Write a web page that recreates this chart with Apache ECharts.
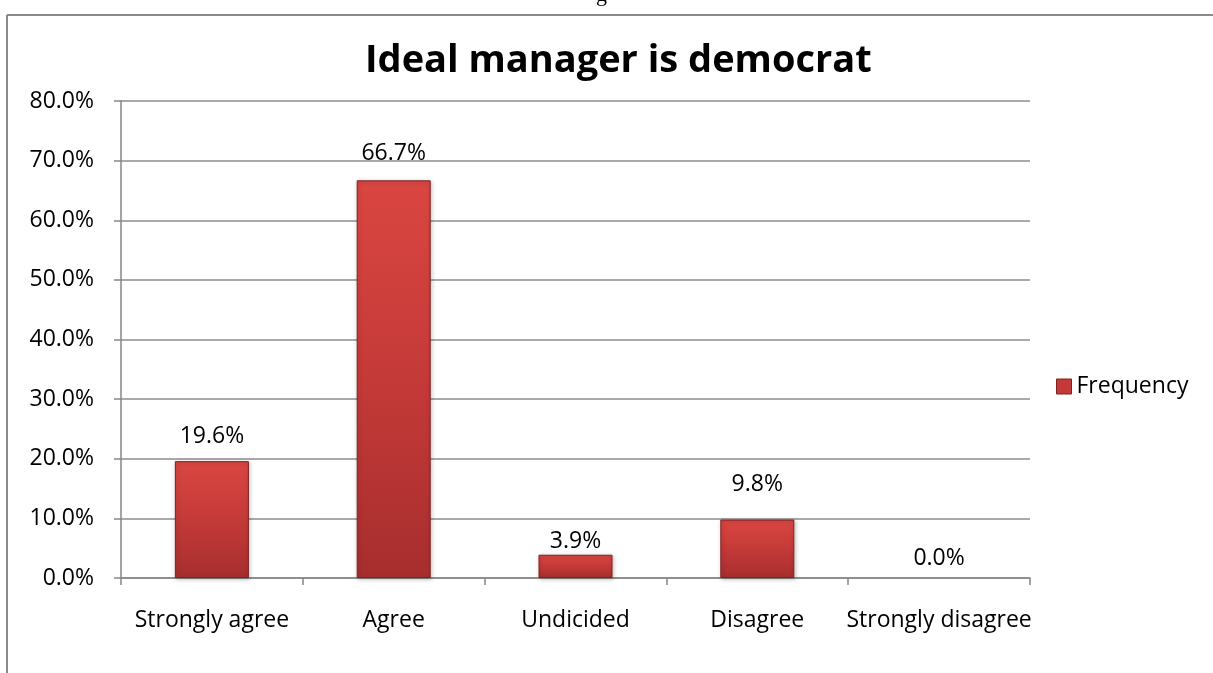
<!DOCTYPE html>
<html>
<head>
<meta charset="utf-8">
<script src="https://cdn.jsdelivr.net/npm/echarts@6/dist/echarts.min.js"></script>
<style>
html,body{margin:0;padding:0;background:#fff;}
#chart{width:1213px;height:673px;}
</style>
</head>
<body>
<div id="chart"></div>
<script>
const categories = ['Strongly agree', 'Agree', 'Undicided', 'Disagree', 'Strongly disagree'];
const frequency = [19.6, 66.7, 3.9, 9.8, 0.0];
const yTicks = [0, 10, 20, 30, 40, 50, 60, 70, 80];
const chartTitle = 'Ideal manager is democrat';
const seriesName = 'Frequency';

const font = '"Open Sans", "Noto Sans", sans-serif';
const chart = echarts.init(document.getElementById('chart'));
const barColor = {
  type: 'linear', x: 0, y: 0, x2: 0, y2: 1,
  colorStops: [
    {offset: 0, color: '#DA4641'},
    {offset: 0.5, color: '#C43A38'},
    {offset: 1, color: '#A72E2E'}
  ]
};
// vertical nudges of the data labels, as placed in the original chart
const labelNudge = [0, -2, 11, -11, 5];
const barData = frequency.map((v, i) => {
  const item = {value: v, label: {offset: [0, labelNudge[i]]}};
  if (v === 0) item.itemStyle = {color: 'rgba(0,0,0,0)', borderColor: 'rgba(0,0,0,0)', borderWidth: 0,
    shadowBlur: 0, shadowOffsetX: 0, shadowOffsetY: 0, shadowColor: 'rgba(0,0,0,0)'};
  return item;
});
chart.setOption({
  animation: false,
  backgroundColor: '#fff',
  title: {
    text: chartTitle,
    left: 360,
    top: 37,
    textStyle: {fontFamily: font, fontWeight: 'bold', fontSize: 38, color: '#000'}
  },
  legend: {
    data: [seriesName],
    left: 1051,
    top: 370,
    itemWidth: 15,
    itemHeight: 15,
    itemGap: 6,
    textStyle: {fontFamily: font, fontSize: 23, color: '#000'},
    icon: 'rect',
    itemStyle: {color: '#C43A38', borderColor: '#7E2222', borderWidth: 1}
  },
  grid: {left: 121, right: 183, top: 101, bottom: 95, containLabel: false},
  xAxis: {
    type: 'category',
    data: categories,
    axisLine: {lineStyle: {color: '#868686', width: 1.5}},
    axisTick: {show: true, length: 7, lineStyle: {color: '#868686', width: 1.5}},
    axisLabel: {fontFamily: font, fontSize: 23, color: '#000', margin: 31, interval: 0}
  },
  yAxis: {
    type: 'value',
    min: 0, max: 80, interval: 10,
    axisLine: {show: true, lineStyle: {color: '#868686', width: 1.5}},
    axisTick: {show: true, length: 7, inside: false, lineStyle: {color: '#868686', width: 1.5}},
    splitLine: {lineStyle: {color: '#8C8C8C', width: 1.5}},
    axisLabel: {fontFamily: font, fontSize: 23, color: '#000', margin: 27,
      formatter: v => yTicks.includes(v) ? v.toFixed(1) + '%' : ''}
  },
  series: [{
    name: seriesName,
    type: 'bar',
    data: barData,
    barWidth: 74,
    itemStyle: {color: barColor, borderColor: '#7E2222', borderWidth: 1,
      shadowColor: 'rgba(0,0,0,0.25)', shadowBlur: 4, shadowOffsetX: 1, shadowOffsetY: 1},
    label: {show: true, position: 'top', distance: 13, fontFamily: font, fontSize: 23, color: '#000',
      formatter: p => p.value.toFixed(1) + '%'}
  }],
  graphic: [
    {type: 'line', shape: {x1: 7, y1: 15, x2: 1213, y2: 15}, style: {stroke: '#8A8A8A', lineWidth: 2}},
    {type: 'line', shape: {x1: 7, y1: 15, x2: 7, y2: 673}, style: {stroke: '#8A8A8A', lineWidth: 2}},
    {type: 'text', left: 596, top: -16, style: {text: 'g', fontFamily: '"Liberation Serif", serif', fontSize: 22, fill: '#000'}}
  ]
});
</script>
</body>
</html>
